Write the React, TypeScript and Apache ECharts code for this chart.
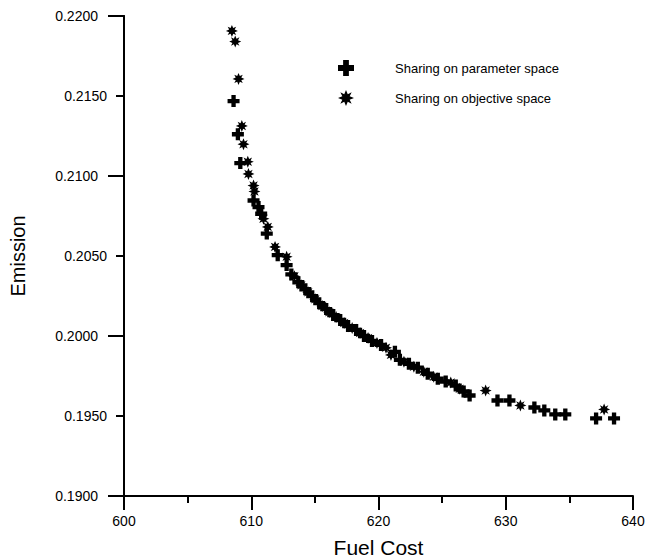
import React, { useEffect, useRef } from "react";
import * as echarts from "echarts";

const paramCost = [608.61, 608.95, 609.14, 610.18, 610.57, 610.78, 611.22, 612.08, 612.78, 613.15, 613.7, 614.25, 614.79, 615.34, 615.89, 616.44, 616.99, 617.61, 618.24, 618.86, 619.49, 620.2, 621.29, 621.68, 622.39, 623.09, 623.87, 624.66, 625.28, 626.07, 626.69, 627.16, 629.35, 630.29, 632.25, 633.03, 633.89, 634.68, 637.1, 638.51];
const paramEmission = [0.21468, 0.21261, 0.21081, 0.20847, 0.20806, 0.20764, 0.2064, 0.20505, 0.20443, 0.20385, 0.20336, 0.20292, 0.20249, 0.20205, 0.20168, 0.20131, 0.201, 0.20062, 0.20038, 0.2, 0.19969, 0.19944, 0.19901, 0.19851, 0.19826, 0.19802, 0.19764, 0.19733, 0.19715, 0.1969, 0.19653, 0.19628, 0.19597, 0.19597, 0.19553, 0.19535, 0.1951, 0.1951, 0.19485, 0.19485];

const objCost = [608.48, 608.74, 609.0, 609.26, 609.39, 609.73, 609.78, 610.18, 610.25, 610.96, 611.3, 611.87, 612.78, 613.39, 613.93, 614.48, 615.03, 615.58, 616.13, 616.67, 617.3, 617.93, 618.55, 619.18, 619.88, 620.59, 620.98, 622.0, 622.78, 623.56, 624.34, 625.68, 626.38, 628.42, 631.15, 637.73];
const objEmission = [0.21907, 0.2184, 0.21607, 0.21313, 0.21199, 0.21089, 0.21013, 0.2094, 0.20903, 0.20733, 0.20682, 0.20557, 0.20495, 0.20373, 0.20317, 0.20274, 0.2023, 0.20187, 0.20149, 0.20118, 0.20081, 0.2005, 0.20019, 0.19988, 0.19957, 0.19926, 0.19882, 0.19839, 0.19808, 0.19777, 0.19746, 0.19709, 0.19671, 0.19659, 0.19566, 0.19541];

const seriesNames = ["Sharing on parameter space", "Sharing on objective space"];

const PLUS = "path://M3.2,0H6.8V3.2H10V6.8H6.8V10H3.2V6.8H0V3.2H3.2Z";
const STAR =
  "path://M20,10L14.6,12.2L17.07,17.07L12.2,14.6L10,20L7.8,14.6L2.93,17.07L5.4,12.2L0,10L5.4,7.8L2.93,2.93L7.8,5.4L10,0L12.2,5.4L17.07,2.93L14.6,7.8Z";

const FONT = "'Liberation Sans', Arial, sans-serif";

export default function App() {
  const ref = useRef<HTMLDivElement>(null);
  useEffect(() => {
    if (!ref.current) return;
    const chart = echarts.init(ref.current, null, { renderer: "svg" });
    const pData = paramCost.map((c, i) => [c, paramEmission[i]]);
    const oData = objCost.map((c, i) => [c, objEmission[i]]);
    chart.setOption({
      animation: false,
      backgroundColor: "#fff",
      textStyle: { fontFamily: FONT, color: "#000" },
      grid: { left: 124, right: 12, top: 16, bottom: 63, containLabel: false, outerBoundsMode: "none" },
      legend: {
        orient: "vertical",
        left: 333,
        top: 55,
        itemWidth: 16,
        itemHeight: 16,
        itemGap: 14,
        textStyle: { fontFamily: FONT, fontSize: 13, color: "#000", padding: [0, 0, 0, 36] },
        data: [
          { name: seriesNames[0], icon: PLUS, itemStyle: { color: "#000" } },
          { name: seriesNames[1], icon: STAR, itemStyle: { color: "#000" } },
        ],
      },
      xAxis: {
        type: "value",
        min: 600,
        max: 640,
        interval: 10,
        name: "Fuel Cost",
        nameLocation: "middle",
        nameGap: 41,
        nameTextStyle: { fontFamily: FONT, fontSize: 21, color: "#000" },
        axisLine: { show: true, lineStyle: { color: "#000", width: 2 } },
        axisTick: { show: true, length: 14, lineStyle: { color: "#000", width: 2 } },
        minorTick: { show: true, splitNumber: 2, length: 7, lineStyle: { color: "#000", width: 2 } },
        axisLabel: { margin: 18, fontFamily: FONT, fontSize: 14, color: "#000" },
        splitLine: { show: false },
      },
      yAxis: [
        {
          type: "value",
          position: "left",
          min: 0.19,
          max: 0.22,
          interval: 0.005,
          name: "Emission",
          nameLocation: "middle",
          nameGap: 96,
          nameTextStyle: { fontFamily: FONT, fontSize: 20, color: "#000" },
          axisLine: { show: true, lineStyle: { color: "#000", width: 2 } },
          axisTick: { show: true, length: 8, lineStyle: { color: "#000", width: 2 } },
          axisLabel: {
            margin: 17,
            fontFamily: FONT,
            fontSize: 14,
            color: "#000",
            formatter: (v: number) => {
              const major = Math.round(v * 1000) % 10 === 0;
              return major ? `{m|${v.toFixed(4)}}` : v.toFixed(4);
            },
            rich: { m: { fontFamily: FONT, fontSize: 14, color: "#000", padding: [0, 9, 0, 0] } },
          },
          splitLine: { show: false },
        },
        {
          type: "value",
          position: "left",
          offset: 0,
          min: 0.19,
          max: 0.22,
          interval: 0.01,
          axisLine: { show: true, lineStyle: { color: "#000", width: 2 } },
          axisTick: { show: true, length: 16, lineStyle: { color: "#000", width: 2 } },
          axisLabel: { show: false },
          splitLine: { show: false },
        },
      ],
      series: [
        {
          name: seriesNames[0],
          type: "scatter",
          yAxisIndex: 0,
          symbol: PLUS,
          symbolSize: 12,
          itemStyle: { color: "#000", opacity: 1 },
          data: pData,
        },
        {
          name: seriesNames[1],
          type: "scatter",
          yAxisIndex: 1,
          symbol: STAR,
          symbolSize: 12,
          itemStyle: { color: "#000", opacity: 1 },
          data: oData,
        },
      ],
    });
    return () => chart.dispose();
  }, []);
  return <div ref={ref} style={{ width: 645, height: 559, position: "absolute", left: 0, top: 0 }} />;
}
